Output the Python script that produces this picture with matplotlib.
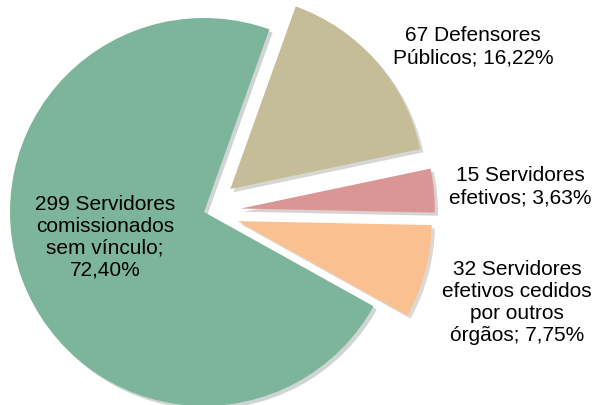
import matplotlib

matplotlib.use("Agg")

import matplotlib.pyplot as plt

# data (counter-clockwise order, starting with the big slice)
categories = [
    "299 Servidores\ncomissionados\nsem vínculo;\n72,40%",
    "32 Servidores\nefetivos cedidos\npor outros\nórgãos; 7,75%",
    "15 Servidores\nefetivos; 3,63%",
    "67 Defensores\nPúblicos; 16,22%",
]
counts = [299, 32, 15, 67]
colors = ["#7DB49C", "#FAC090", "#D99694", "#C4BD97"]
explode = [0.0, 0.18, 0.19, 0.18]

# label anchor points (data units, pie radius = 1)
label_pos = [(-0.51, -0.13), (1.613, -0.464), (1.629, 0.129), (1.387, 0.851)]

plt.rcParams["font.family"] = ["Liberation Sans", "DejaVu Sans"]

W, H = 596, 405
CX, CY, R = 204, 212, 194  # pie centre and radius in pixels

fig = plt.figure(figsize=(W / 100, H / 100), dpi=100)
ax = fig.add_axes([0, 0, 1, 1])

ax.pie(
    counts,
    colors=colors,
    explode=explode,
    startangle=70.3,
    counterclock=True,
    radius=1.0,
    wedgeprops={"linewidth": 0},
    shadow={"ox": 0.012, "oy": -0.012, "shade": 0.5, "alpha": 0.25},
)

for text, (x, y) in zip(categories, label_pos):
    ax.text(x, y, text, ha="center", va="center", fontsize=15,
            linespacing=1.2, color="#000000")

ax.set_xlim(-CX / R, (W - CX) / R)
ax.set_ylim(-(H - CY) / R, CY / R)
ax.set_aspect("auto")
ax.axis("off")

fig.savefig("out.png", dpi=100, facecolor="white")
plt.close(fig)
